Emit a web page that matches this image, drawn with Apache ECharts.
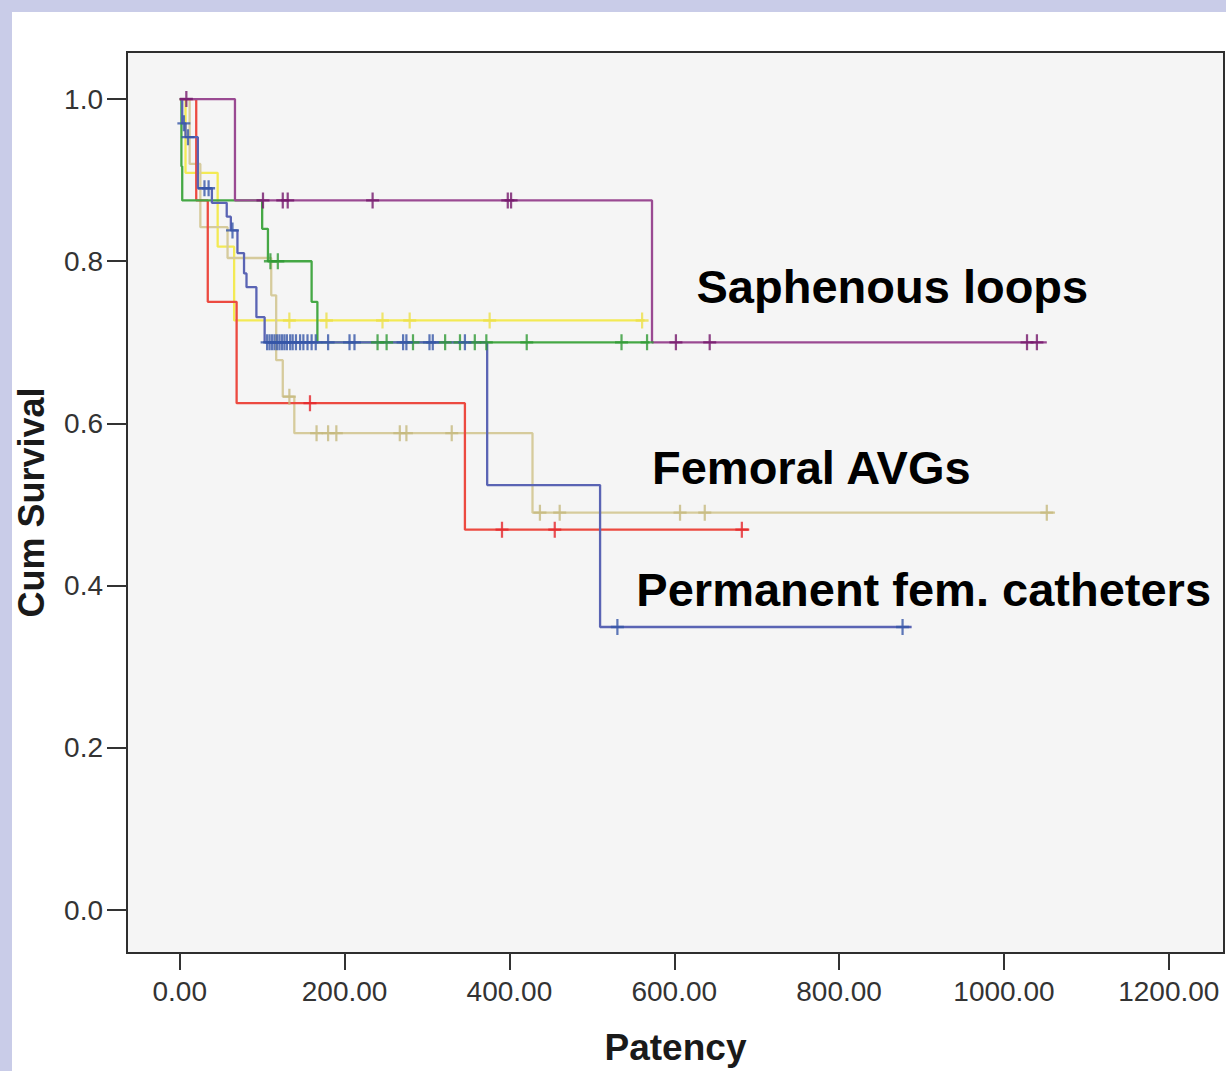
<!DOCTYPE html>
<html>
<head>
<meta charset="utf-8">
<script src="https://cdn.jsdelivr.net/npm/echarts@6/dist/echarts.min.js"></script>
<style>
  html, body { margin: 0; padding: 0; background: #c9cce8; }
  #paper { position: absolute; left: 12px; top: 12px; width: 1214px; height: 1059px; background: #ffffff; }
  #main { position: absolute; left: 0; top: 0; width: 1226px; height: 1071px; }
</style>
</head>
<body>
<div id="paper"></div>
<div id="main"></div>
<script>
// axis ticks
var xTicks = [0, 200, 400, 600, 800, 1000, 1200];
var yTicks = [0, 0.2, 0.4, 0.6, 0.8, 1.0];

// Kaplan-Meier steps (time, survival after that time)
var yellowT = [0, 7, 46, 66, 564];
var yellowS = [1.0, 0.909, 0.818, 0.727, 0.727];
var yellowCens = [133, 178, 246, 279, 376, 561];

var tanT = [0, 12, 25, 58, 111, 117, 125, 139, 428, 1062];
var tanS = [1.0, 0.92, 0.842, 0.804, 0.758, 0.678, 0.633, 0.588, 0.49, 0.49];
var tanCens = [133, 166, 180, 190, 267, 275, 330, 437, 461, 607, 637, 1052];

var redT = [0, 20, 34, 69, 346, 691];
var redS = [1.0, 0.875, 0.75, 0.625, 0.469, 0.469];
var redCens = [158, 391, 455, 682];

var greenT = [0, 2, 3, 100, 107, 160, 167, 570];
var greenS = [1.0, 0.917, 0.875, 0.84, 0.80, 0.75, 0.70, 0.70];
var greenCens = [110, 119, 240, 251, 283, 322, 340, 358, 372, 421, 536, 567];

var blueT = [0, 3, 7, 22, 39, 57, 62, 70, 78, 81, 93, 103, 373, 510, 888];
var blueS = [1.0, 0.97, 0.953, 0.89, 0.872, 0.855, 0.838, 0.81, 0.785, 0.768, 0.731, 0.70, 0.524, 0.349, 0.349];
var blueCens = [5, 10, 30, 35, 64, 106, 109, 112, 115, 118, 121, 124, 127, 130, 134, 137, 141, 146,
  150, 155, 160, 165, 180, 206, 212, 271, 275, 303, 307, 346, 531, 877];

var purpleT = [0, 67, 573, 1052];
var purpleS = [1.0, 0.875, 0.70, 0.70];
var purpleCens = [8, 101, 125, 131, 234, 398, 402, 602, 643, 1028, 1040];

var groups = [
  { name: 'yellow', t: yellowT, s: yellowS, cens: yellowCens, line: '#f3ea55', mark: '#ece04a' },
  { name: 'tan', t: tanT, s: tanS, cens: tanCens, line: '#d6cb9c', mark: '#c6b97e' },
  { name: 'red', t: redT, s: redS, cens: redCens, line: '#ec4a40', mark: '#e5262a' },
  { name: 'green', t: greenT, s: greenS, cens: greenCens, line: '#45a845', mark: '#2f9a35' },
  { name: 'blue', t: blueT, s: blueS, cens: blueCens, line: '#5a64b4', mark: '#3656a8' },
  { name: 'purple', t: purpleT, s: purpleS, cens: purpleCens, line: '#9a4a92', mark: '#74186c' }
];

// text annotations placed in data space
var notes = [
  { text: 'Saphenous loops', x: 627, y: 0.769 },
  { text: 'Femoral AVGs', x: 573, y: 0.546 },
  { text: 'Permanent fem. catheters', x: 554, y: 0.395 }
];

function survAt(g, time) {
  var v = g.s[0];
  for (var i = 0; i < g.t.length; i++) {
    if (g.t[i] <= time) v = g.s[i];
  }
  return v;
}

var plus = 'path://M-1.2,-8H1.2V-1.2H7V1.2H1.2V8H-1.2V1.2H-7V-1.2H-1.2Z';
var series = [];
groups.forEach(function (g) {
  series.push({
    name: g.name,
    type: 'line',
    step: 'end',
    showSymbol: false,
    lineStyle: { color: g.line, width: 2.3 },
    data: g.t.map(function (t, i) { return [t, g.s[i]]; }),
    z: 2
  });
  series.push({
    name: g.name + ' censored',
    type: 'scatter',
    symbol: plus,
    symbolSize: [13, 16],
    itemStyle: { color: g.mark },
    data: g.cens.map(function (t) { return [t, survAt(g, t)]; }),
    z: 3
  });
});

var font = '"Liberation Sans", Arial, Helvetica, sans-serif';
var chart = echarts.init(document.getElementById('main'), null, { renderer: 'svg' });
chart.setOption({
  backgroundColor: 'transparent',
  animation: false,
  grid: {
    left: 127, top: 52, right: 2, bottom: 118,
    show: true,
    backgroundColor: '#f5f5f5',
    borderColor: '#2e2e2e',
    borderWidth: 2
  },
  xAxis: {
    type: 'value',
    min: -64,
    max: 1267,
    name: 'Patency',
    nameLocation: 'middle',
    nameGap: 76,
    nameTextStyle: { fontFamily: font, fontSize: 37, fontWeight: 'bold', color: '#1a1a1a' },
    axisLine: { show: false, onZero: false },
    splitLine: { show: false },
    axisTick: { show: true, customValues: xTicks, length: 17, lineStyle: { color: '#333', width: 2 } },
    axisLabel: {
      customValues: xTicks,
      margin: 24,
      fontFamily: font, fontSize: 28, color: '#333',
      formatter: function (v) { return v.toFixed(2); }
    }
  },
  yAxis: {
    type: 'value',
    min: -0.053,
    max: 1.058,
    name: 'Cum Survival',
    nameLocation: 'middle',
    nameGap: 78,
    nameTextStyle: { fontFamily: font, fontSize: 36, fontWeight: 'bold', color: '#1a1a1a' },
    axisLine: { show: false, onZero: false },
    splitLine: { show: false },
    axisTick: { show: true, customValues: yTicks, length: 20, lineStyle: { color: '#333', width: 2 } },
    axisLabel: {
      customValues: yTicks,
      margin: 24,
      fontFamily: font, fontSize: 28, color: '#333',
      formatter: function (v) { return v.toFixed(1); }
    }
  },
  series: series
});

// annotations
chart.setOption({
  graphic: notes.map(function (n) {
    var p = chart.convertToPixel({ gridIndex: 0 }, [n.x, n.y]);
    return {
      type: 'text',
      x: p[0],
      y: p[1],
      z: 10,
      style: {
        text: n.text,
        fill: '#000',
        font: 'bold 47px ' + font,
        textAlign: 'left',
        textVerticalAlign: 'middle'
      }
    };
  })
});
</script>
</body>
</html>
